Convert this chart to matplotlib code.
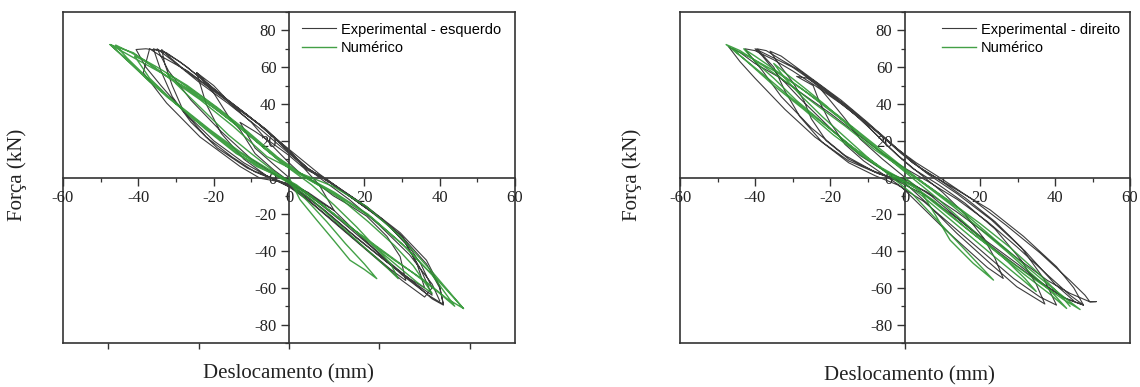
import matplotlib
matplotlib.use("Agg")
import matplotlib.pyplot as plt
from matplotlib.ticker import MultipleLocator, FixedLocator

plt.rcParams["axes.unicode_minus"] = False

# ---------------- data (displacement mm, force kN) ----------------
exp_left_x = [0, -4, -9, -13, -9, -4, 0, 4, 8, 12, 8, 4, 0, -4, -9,
              -13, -16, -20, -24.5, -20, -14.8, -10, -6, 0, 2.9, 8, 11.8, 16, 20.6, 26, 29.5, 31,
              27, 20, 12, 5, 0, -6, -12, -18, -22, -24.5,
              -22, -16, -8, -1, 5, 11, 18, 25, 31, 34, 36,
              32, 26, 18, 10, 3, -3, -9, -15, -22, -28, -31, -33, -33.8,
              -32, -28, -22, -16, -8, -1, 5, 11, 18, 25, 31, 35, 38,
              33, 26, 17, 9, 2, -5, -11, -19, -26, -31, -34, -36,
              -33, -29, -24, -18, -11, -4, 2, 8, 14, 22, 30, 35, 38, 36,
              30, 22, 14, 6, 0, -6, -12, -20, -28, -34, -38, -40.6,
              -38, -34, -32.5, -27, -21, -13, -6, -0.6, 4.7, 10, 20.6, 29.5, 36.5, 40, 41,
              38, 33, 26, 18, 11.8, 5, -0.6, -7.7, -13, -23.6, -32.5, -38.7, -37,
              -34, -27, -21, -13, -6, -0.6, 4.7, 10, 20.6, 29.5, 36.5, 40, 41,
              37, 30, 22, 14, 8, 2, -4, -10, -18, -26, -32, -35,
              -30, -24, -16, -8, 0, 8, 16, 24, 32, 38, 40]
exp_left_y = [0, 7, 16, 30, 25, 18, 12, 5, -4, -18, -13, -7, -2, 4, 13,
              26, 33, 46, 57, 50, 38.7, 30, 20.5, 8, 2.4, -4, -10, -15, -21, -32, -43, -56,
              -50, -38, -24, -12, -4, 1, 10, 24, 40, 57,
              52, 41, 29, 16, 5, -3, -13, -23, -36, -47, -60,
              -55, -46, -33, -19, -8, -2, 3, 11, 22, 36, 50, 62, 69.6,
              66, 59, 50, 41, 29, 16, 5, -3, -13, -23, -36, -50, -64,
              -57, -46, -31, -17, -6, 0, 5, 16, 30, 44, 58, 70,
              68, 63, 55, 45, 34, 22, 12, 2, -7, -19, -32, -47, -60, -65,
              -56, -42, -28, -14, -5, 1, 8, 20, 36, 50, 60, 69.6,
              70, 69, 67.8, 60, 49.6, 36.9, 26, 15, 4.2, -1.3, -15.8, -30, -45, -59, -69.4,
              -66, -57, -45, -30, -17.6, -8, -3, -0.4, 6, 22, 40.5, 57, 70,
              66, 58, 49, 37, 26, 16, 5, -1, -16, -31, -47, -60, -69,
              -64, -53, -38, -24, -14, -5, 2, 10, 25, 42, 58, 70,
              62, 52, 40, 27, 13, 0, -12, -26, -42, -58, -67]

num_left_x = [0, 2.9, 7.3, 11.8, 16.2, 20, 23.3,
              20, 15, 10, 5, 0, -5, -10, -16, -22, -27, -30, -32.5,
              -29, -24, -18, -12, -6, 0, 6, 12, 18, 23, 27, 29,
              26, 20, 13, 6, 0, -6, -12, -19, -26, -32, -37, -41,
              -38, -33, -27, -20, -13, -6, 0, 7, 14, 21, 28, 33, 38,
              34, 27, 20, 12, 5, -0.6, -8.6, -14.8, -23.6, -32.5, -41.3, -47.5,
              -41.3, -32.5, -23.6, -14.8, -5.9, 2.9, 11.8, 20.6, 29.5, 38.3, 46.3,
              42, 36, 28, 20, 12, 5, 0, -7, -14, -22, -30, -38, -43, -46,
              -42, -35, -27, -19, -11, -3, 4, 12, 21, 30, 38, 44,
              40, 33, 25, 17, 9, 2, -5, -13, -21, -29, -37, -44, -47.5,
              -42, -34, -26, -18, -10, -2, 5, 13, 22, 31, 40, 46.3]
num_left_y = [0, -12, -23, -34, -45, -50, -55,
              -47, -36, -24, -13, -3, 5, 13, 23, 35, 45, 51, 57,
              52, 45, 36, 26, 15, 5, -4, -15, -27, -38, -47, -55,
              -49, -38, -25, -12, -3, 4, 12, 22, 33, 44, 54, 66,
              63, 56, 48, 38, 27, 15, 6, -3, -12, -24, -37, -48, -63,
              -57, -45, -33, -20, -9, -1.3, 6, 15, 29.6, 44, 60.5, 72.3,
              67.8, 55, 42.3, 27.8, 11.4, 2.4, -4.9, -15.8, -32, -52, -71.2,
              -66, -56, -45, -33, -20, -9, -2, 5, 13, 26, 40, 55, 65, 72,
              68, 60, 50, 38, 25, 11, 1, -8, -20, -36, -53, -70,
              -63, -52, -40, -28, -15, -4, 4, 14, 26, 39, 52, 66, 72.3,
              66, 57, 47, 35, 22, 8, -1, -10, -22, -38, -57, -71.2]

exp_right_x = [0, -6, -12, -16, -20, -24.5,
               -20, -14, -8, -2, 4, 10, 16, 21, 24, 26.2,
               22, 16, 10, 4, -1, -6, -11, -16, -20, -23, -24.5, -28.9,
               -26, -22, -16, -10, -4, 2, 9, 16, 24, 31, 35, 37.3,
               29.8, 22.7, 13.8, 4.9, 0, -5, -9, -15, -21, -25, -27, -30, -33, -36,
               -33, -29, -23, -17, -10, -4, 2, 9, 16, 24, 31, 37, 40.4,
               36, 29, 21, 13, 5, -2, -8, -15, -22, -28, -32, -35, -39.5,
               -37, -33, -28, -22.7, -13.8, -6.7, 0, 4.9, 13.8, 22.7, 31.6, 40.4, 45, 47.6,
               42, 36, 29.8, 22.7, 13.8, 4.9, -2, -8, -16, -25, -33, -38, -42.7,
               -40, -35, -30, -24, -17, -10, -3, 3, 10, 18, 27, 36, 44, 48, 49.3, 51, 49.3,
               44, 38, 30, 22, 14, 6, 0, -7, -15, -24, -32, -40, -44, -47,
               -44, -40, -34, -27, -20, -13, -6, 0, 6, 14, 22, 30, 38, 44, 47.6,
               43, 37, 30, 22, 14, 7, 1, -5, -12, -20, -28, -34, -38, -40,
               -36, -30, -23, -15, -8, -1, 6, 14, 23, 32, 40, 45]
exp_right_y = [0, 10, 21, 32, 42, 53,
               46, 36, 24, 12, 2, -8, -20, -33, -44, -54.9,
               -49, -38, -27, -15, -5, 2, 9, 18, 30, 42, 50, 55,
               54, 48, 39, 28, 16, 5, -4, -14, -28, -45, -58, -68.8,
               -59.4, -46.7, -30.3, -12.2, -3, 1, 4, 10, 20, 32, 42, 52, 60, 68.7,
               66, 60, 51, 42, 30, 19, 8, -1, -11, -24, -38, -55, -69.4,
               -65, -55, -41, -27, -13, -4, 1, 8, 19, 33, 47, 60, 70,
               69, 64, 58, 49.6, 35, 24, 12, 4, -6.7, -17.6, -32, -48.5, -60, -69.4,
               -65, -57, -48, -37, -22, -9, -2, 3, 12, 27, 44, 58, 70,
               69, 64, 58, 50, 40, 29, 17, 8, -1, -12, -26, -41, -56, -64, -67.6, -67.5, -67.6,
               -63, -56, -44, -31, -19, -8, -2, 2, 9, 22, 37, 54, 63, 71,
               68, 62, 55, 45, 35, 24, 13, 5, -2, -12, -24, -38, -53, -64, -69.4,
               -66, -58, -47, -35, -22, -10, -2, 3, 12, 27, 43, 56, 66, 70,
               66, 60, 50, 38, 26, 13, 2, -9, -23, -40, -58, -67]

num_right_x = [0, 4, 8, 12, 18.2, 23.6,
               20, 14, 8, 2, -4, -10, -16, -22, -28, -32, -35,
               -32, -27, -21, -15, -9, -3, 3, 9, 15, 21, 27, 32, 35,
               31, 25, 18, 11, 4, -2, -8, -15, -22, -29, -35, -40, -43,
               -40, -35, -28, -21, -14, -7, 0, 6, 13, 20, 27, 33, 39, 43.1,
               39, 32, 24, 16, 8, 1, -6, -13, -21, -29, -36, -42, -47.7,
               -44, -38, -31, -24, -16, -8, 0, 7, 15, 23, 31, 38, 43, 46.7,
               42, 35, 27, 19, 11, 3, -4, -11, -19, -27, -35, -41, -46,
               -41, -34, -26, -18, -10, -2, 5, 12, 20, 28, 35, 41, 44]
num_right_y = [0, -6.7, -20, -34, -46.7, -55.8,
               -48, -35, -22, -9, 1, 11, 22, 33, 45, 54, 62,
               57, 49, 39, 28, 18, 8, -2, -12, -23, -34, -45, -55, -62,
               -55, -45, -33, -21, -9, -1, 7, 18, 30, 42, 54, 63, 70,
               66, 59, 49, 38, 27, 15, 4, -5, -16, -28, -40, -51, -62, -71.2,
               -64, -53, -40, -27, -13, -3, 5, 15, 28, 41, 53, 63, 72.3,
               69, 61, 51, 40, 28, 15, 4, -6, -18, -32, -46, -58, -66, -71.8,
               -66, -56, -44, -32, -19, -6, 2, 11, 23, 37, 50, 61, 70,
               65, 57, 46, 34, 21, 8, -3, -13, -25, -38, -51, -63, -70]

x_ticks = [-60, -40, -20, 0, 20, 40, 60]
y_ticks = [-80, -60, -40, -20, 0, 20, 40, 60, 80]
frame_ticks_left = [-48, -24, 0, 24, 48]
frame_ticks_right = [0]
legend_left = ["Experimental - esquerdo", "Numérico"]
legend_right = ["Experimental - direito", "Numérico"]
xlabel = "Deslocamento (mm)"
ylabel = "Força (kN)"

# ---------------- figure ----------------
W, H = 1140, 387
fig = plt.figure(figsize=(W / 100, H / 100), dpi=100)

SERIF = "Liberation Serif"
SANS = "Liberation Sans"
EXP_C = "#3c3c3c"
NUM_C = "#2e9632"


def panel(px0, px1, exp_x, exp_y, num_x, num_y, labels, frame_ticks, leg_px):
    top, bot = 12, 343
    rect = [px0 / W, (H - bot) / H, (px1 - px0) / W, (bot - top) / H]
    fr = fig.add_axes(rect)
    fr.set_xlim(-60, 60)
    fr.set_ylim(-90, 90)
    fr.set_yticks([])
    fr.xaxis.set_major_locator(FixedLocator(frame_ticks))
    fr.tick_params(axis="x", direction="out", length=4, width=1.0,
                   labelbottom=False, color="#333333")
    for s in fr.spines.values():
        s.set_linewidth(1.2)
        s.set_color("#333333")
    fr.patch.set_visible(False)

    ax = fig.add_axes(rect)
    ax.patch.set_visible(False)
    ax.set_xlim(-60, 60)
    ax.set_ylim(-90, 90)
    for k in ("top", "right"):
        ax.spines[k].set_visible(False)
    ax.spines["left"].set_position("zero")
    ax.spines["bottom"].set_position("zero")
    for k in ("left", "bottom"):
        ax.spines[k].set_linewidth(1.2)
        ax.spines[k].set_color("#333333")
    ax.xaxis.set_major_locator(FixedLocator(x_ticks))
    ax.yaxis.set_major_locator(FixedLocator(y_ticks))
    ax.xaxis.set_minor_locator(MultipleLocator(10))
    ax.yaxis.set_minor_locator(MultipleLocator(10))
    ax.tick_params(which="major", direction="out", length=6, width=1.0,
                   color="#333333", labelsize=12, pad=3)
    ax.tick_params(which="minor", direction="out", length=3, width=0.9,
                   color="#333333")
    for lab in ax.get_xticklabels() + ax.get_yticklabels():
        lab.set_fontfamily(SERIF)
        lab.set_color("#222222")
    ax.set_axisbelow(True)

    l1, = ax.plot(exp_x, exp_y, color=EXP_C, lw=0.8, zorder=3)
    l2, = ax.plot(num_x, num_y, color=NUM_C, lw=1.0, alpha=0.9, zorder=4)

    ax.legend([l1, l2], labels, loc="upper left",
              bbox_to_anchor=((leg_px - px0) / (px1 - px0), 0.968),
              frameon=False, borderpad=0, borderaxespad=0,
              handlelength=2.3, handletextpad=0.35, labelspacing=0.3,
              prop={"family": SANS, "size": 10.5})
    return ax


panel(63, 515, exp_left_x, exp_left_y, num_left_x, num_left_y,
      legend_left, frame_ticks_left, 302)
panel(680, 1130, exp_right_x, exp_right_y, num_right_x, num_right_y,
      legend_right, frame_ticks_right, 942)

for cx, cy in ((17, 175), (632, 175)):
    fig.text(cx / W, 1 - cy / H, ylabel, rotation=90, ha="center", va="center",
             fontsize=15, family=SERIF, color="#222222")
for cx, cy in ((288, 374), (909, 376)):
    fig.text(cx / W, 1 - cy / H, xlabel, ha="center", va="center",
             fontsize=15, family=SERIF, color="#222222")

fig.savefig("out.png", dpi=100)
